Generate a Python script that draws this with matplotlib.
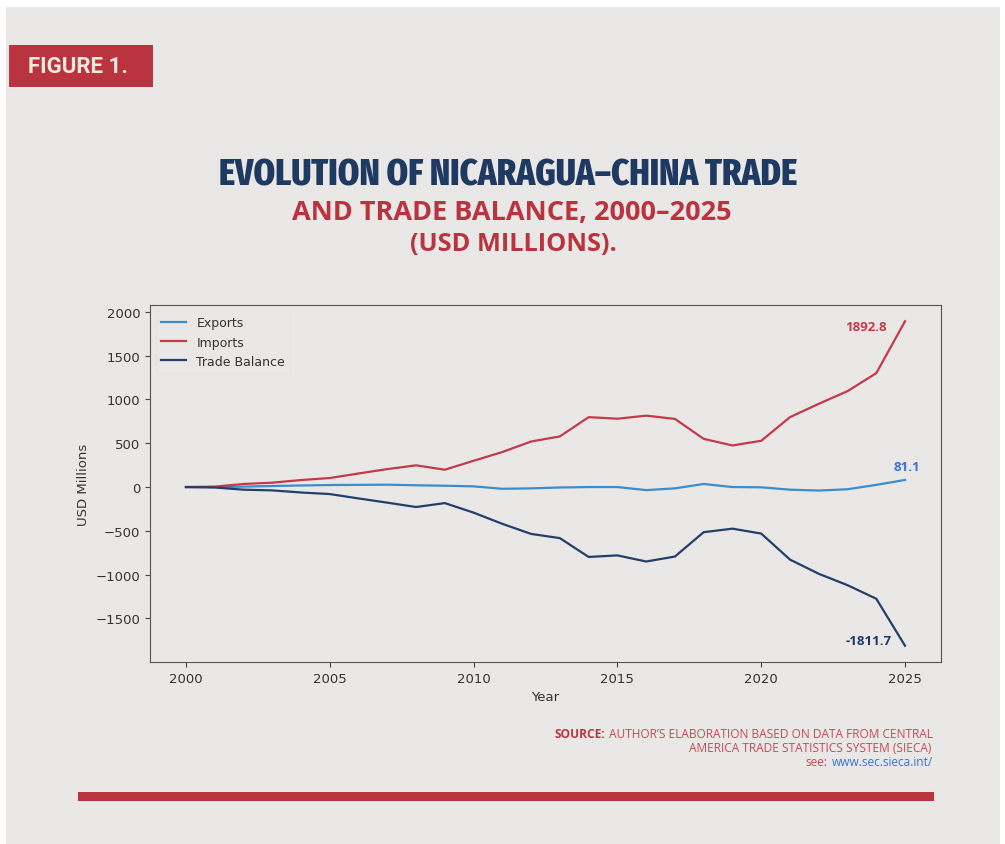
import os
import matplotlib
matplotlib.use('Agg')
import matplotlib.pyplot as plt
from matplotlib import font_manager
from matplotlib.font_manager import FontProperties
from matplotlib.patches import Rectangle

years = list(range(2000, 2026))
exports = [0, 0, 5, 12, 18, 23, 25, 27, 20, 15, 8, -20, -15, -5, 0, 0, -35, -15, 35, 0, -3, -30, -40, -25, 25, 81.1]
imports = [0, 5, 35, 50, 80, 103, 155, 205, 248, 198, 300, 400, 520, 578, 798, 780, 815, 778, 550, 475, 528, 798, 950, 1095, 1300, 1892.8]
balance = [0, -5, -30, -38, -62, -80, -130, -178, -228, -183, -292, -420, -535, -583, -798, -780, -850, -793, -515, -475, -531, -828, -990, -1120, -1275, -1811.7]

series_names = ['Exports', 'Imports', 'Trade Balance']
colors = ['#3b8dcc', '#c43a4b', '#233f6b']

PAPER = '#e9e8e6'
RED = '#b9343f'
NAVY = '#1f3a62'

names = {f.name for f in font_manager.fontManager.ttflist}
sans = 'Open Sans' if 'Open Sans' in names else 'DejaVu Sans'


# look for a heavy, very narrow installed face for the headline
def condensed_font():
    best = None
    for f in font_manager.fontManager.ttflist:
        key = (f.name + os.path.basename(f.fname)).lower().replace(' ', '').replace('-', '')
        if 'condensed' not in key and 'narrow' not in key and f.stretch == 'normal':
            continue
        if 'extracondensed' in key or 'ultracondensed' in key:
            level = 3
        elif 'semicondensed' in key:
            level = 1
        else:
            level = 2
        w = f.weight if isinstance(f.weight, int) else font_manager.weight_dict.get(f.weight, 400)
        if 'italic' in key or 'oblique' in key or w < 700:
            continue
        score = (level, -abs(w - 800))
        if best is None or score > best[0]:
            best = (score, f.fname)
    if best is None:
        return FontProperties(family='DejaVu Sans', weight='bold', stretch='condensed')
    return FontProperties(fname=best[1])


fig = plt.figure(figsize=(10.05, 8.45), dpi=100)
W, H = 1005, 845


def fx(px):
    return px / W


def fy(py):
    return 1 - py / H


# paper background
fig.patches.append(Rectangle((fx(6), fy(845)), fx(994), 837 / H, transform=fig.transFigure,
                             facecolor=PAPER, edgecolor='none', zorder=-10))

# figure badge
fig.patches.append(Rectangle((fx(9), fy(88)), fx(144), 42 / H, transform=fig.transFigure,
                             facecolor=RED, edgecolor='none', zorder=1))
fig.text(fx(78), fy(67), 'FIGURE 1.', color='#f1e9dc', fontsize=16, fontweight='bold',
         family='Roboto', ha='center', va='center')

# titles
t1 = fig.text(fx(508), fy(185), 'EVOLUTION OF NICARAGUA–CHINA TRADE', color=NAVY,
              fontproperties=condensed_font(), ha='center', va='baseline')
t1.set_fontsize(30)
t2 = fig.text(fx(512), fy(220), 'AND TRADE BALANCE, 2000–2025', color=RED,
              fontsize=17, fontweight='bold', family=sans, ha='center', va='baseline')
t3 = fig.text(fx(513), fy(251), '(USD MILLIONS).', color=RED,
              fontsize=17, fontweight='bold', family=sans, ha='center', va='baseline')

# main axes
ax = fig.add_axes([fx(150), fy(663), fx(791), (663 - 306) / H])
ax.set_facecolor('none')
for name, vals, c in zip(series_names, [exports, imports, balance], colors):
    ax.plot(years, vals, color=c, linewidth=1.6, label=name)

ax.set_xticks([2000, 2005, 2010, 2015, 2020, 2025])
ax.set_yticks([-1500, -1000, -500, 0, 500, 1000, 1500, 2000])
ax.tick_params(labelsize=9.5, colors='#444444', labelcolor='#333333')
for s in ax.spines.values():
    s.set_color('#555555')
ax.set_xlabel('Year', fontsize=9.5, color='#333333')
ax.set_ylabel('USD Millions', fontsize=9.5, color='#333333')

leg = ax.legend(loc='upper left', fontsize=9, frameon=True, facecolor=PAPER,
                edgecolor='#e4e3e1', framealpha=0.8)
for t in leg.get_texts():
    t.set_color('#333333')

ax.annotate(f'{imports[-1]}', xy=(years[-1], imports[-1]), xytext=(-13, -4),
            textcoords='offset points', ha='right', va='center', fontsize=9.5,
            fontweight='bold', color='#c43a4b', family=sans)
ax.annotate(f'{exports[-1]}', xy=(years[-1], exports[-1]), xytext=(1.5, 9.5),
            textcoords='offset points', ha='center', va='center', fontsize=9.5,
            fontweight='bold', color='#3a72d6', family=sans)
ax.annotate(f'{balance[-1]}', xy=(years[-1], balance[-1]), xytext=(-10, 4),
            textcoords='offset points', ha='right', va='center', fontsize=9.5,
            fontweight='bold', color=NAVY, family=sans)

# source lines
src_red = '#c24a55'
s1 = fig.text(fx(933), fy(735), 'AUTHOR’S ELABORATION BASED ON DATA FROM CENTRAL', color=src_red,
              fontsize=8.6, family=sans, ha='right', va='center')
fig.text(fx(931), fy(749), 'AMERICA TRADE STATISTICS SYSTEM (SIECA)', color=src_red,
         fontsize=8.6, family=sans, ha='right', va='center')
url = fig.text(fx(933), fy(763), 'www.sec.sieca.int/', color='#3a6fd6',
               fontsize=8.6, family=sans, ha='right', va='center')

# red rule
fig.patches.append(Rectangle((fx(78), fy(802)), fx(856), 9 / H, transform=fig.transFigure,
                             facecolor=RED, edgecolor='none', zorder=1))

# fit title widths and place the prefixes next to right-aligned runs
fig.canvas.draw()
r = fig.canvas.get_renderer()
w = t1.get_window_extent(r).width
t1.set_fontsize(30 * 577 / w)
for t, target in [(t2, 441), (t3, 208)]:
    w = t.get_window_extent(r).width
    t.set_fontsize(17 * target / w)

x0 = s1.get_window_extent(r).x0
fig.text(x0 - 4, fy(735) * H, 'SOURCE:', transform=None, color=RED, fontsize=8.6,
         fontweight='bold', family=sans, ha='right', va='center')
x0 = url.get_window_extent(r).x0
fig.text(x0 - 4, fy(763) * H, 'see:', transform=None, color=src_red, fontsize=8.6,
         family=sans, ha='right', va='center')

fig.savefig('out.png', dpi=100, facecolor='white')
